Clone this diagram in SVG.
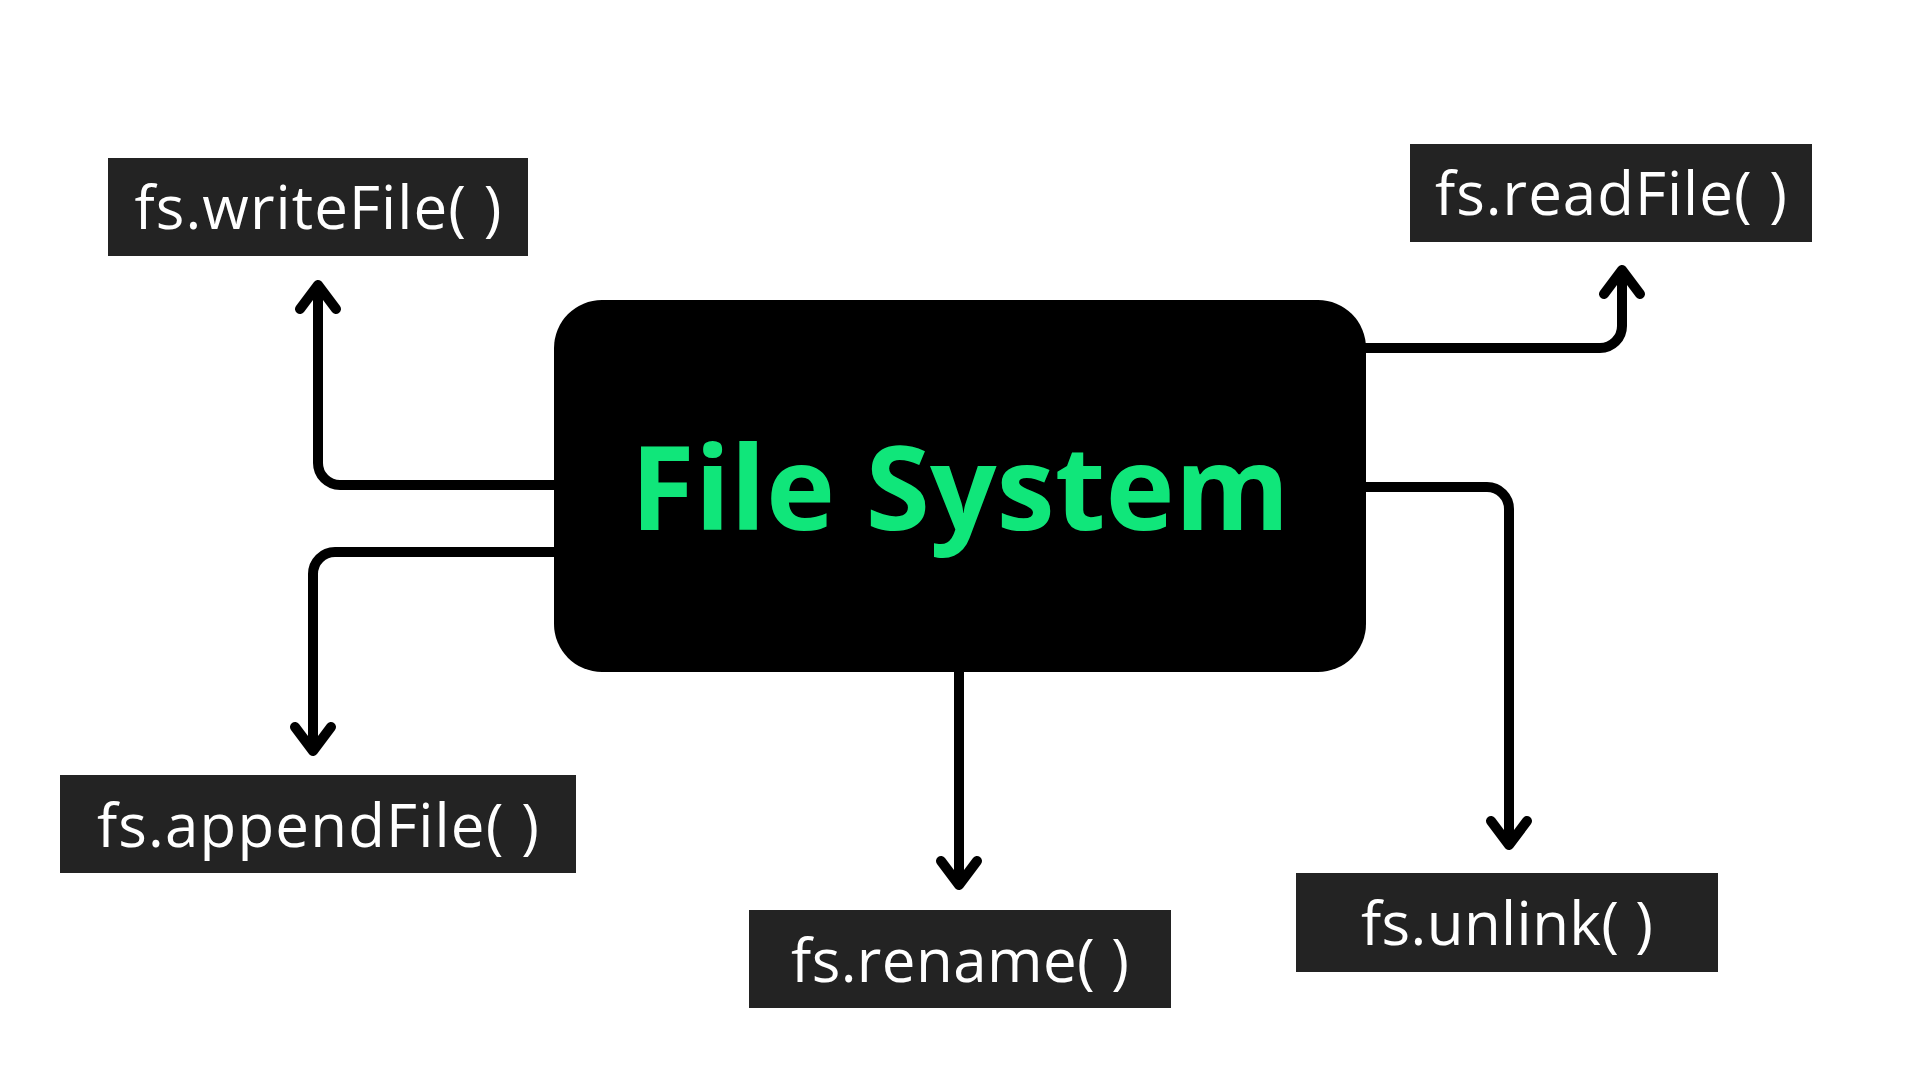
<svg xmlns="http://www.w3.org/2000/svg" width="1920" height="1080" viewBox="0 0 1920 1080">
  <style>
    .bg { fill: #ffffff; }
    .label-box { fill: #232323; }
    .label { fill: #ffffff; font-family: "Open Sans", "Noto Sans", "Liberation Sans", sans-serif; font-size: 60px; font-weight: 400; text-anchor: middle; }
    .core { fill: #000000; }
    .core-text { fill: #10E67A; font-family: "Open Sans", "Noto Sans", "Liberation Sans", sans-serif; font-size: 117px; font-weight: 700; text-anchor: middle; }
    .conn { fill: none; stroke: #000000; stroke-width: 10; stroke-linejoin: round; marker-end: url(#chev); }
  </style>
  <defs>
    <marker id="chev" markerUnits="userSpaceOnUse" markerWidth="60" markerHeight="60" viewBox="-30 -30 60 60" refX="0" refY="0" orient="auto">
      <path d="M -24 -18 L 0 0 L -24 18" fill="none" stroke="#000000" stroke-width="10" stroke-linecap="round" stroke-linejoin="round"/>
    </marker>
  </defs>
  <rect class="bg" x="0" y="0" width="1920" height="1080"/>

  <g id="connectors">
    <path class="conn" d="M 555 485 H 340 A 22 22 0 0 1 318 463 V 285"/>
    <path class="conn" d="M 555 552 H 335 A 22 22 0 0 0 313 574 V 751"/>
    <path class="conn" d="M 1365 348 H 1600 A 22 22 0 0 0 1622 326 V 270"/>
    <path class="conn" d="M 1365 487 H 1487 A 22 22 0 0 1 1509 509 V 845"/>
    <path class="conn" d="M 959 672 V 885"/>
  </g>

  <g id="file-system">
    <rect class="core" x="554" y="300" width="812" height="372" rx="48" ry="48"/>
    <text class="core-text" x="960" y="530">File System</text>
  </g>

  <g id="writeFile">
    <rect class="label-box" x="108" y="158" width="420" height="98"/>
    <text class="label" x="318" y="229" textLength="367" lengthAdjust="spacing">fs.writeFile( )</text>
  </g>

  <g id="readFile">
    <rect class="label-box" x="1410" y="144" width="402" height="98"/>
    <text class="label" x="1611" y="215" textLength="352" lengthAdjust="spacing">fs.readFile( )</text>
  </g>

  <g id="appendFile">
    <rect class="label-box" x="60" y="775" width="516" height="98"/>
    <text class="label" x="318" y="847" textLength="442" lengthAdjust="spacing">fs.appendFile( )</text>
  </g>

  <g id="rename">
    <rect class="label-box" x="749" y="910" width="422" height="98"/>
    <text class="label" x="960" y="982" textLength="338" lengthAdjust="spacing">fs.rename( )</text>
  </g>

  <g id="unlink">
    <rect class="label-box" x="1296" y="873" width="422" height="99"/>
    <text class="label" x="1507" y="945" textLength="292" lengthAdjust="spacing">fs.unlink( )</text>
  </g>
</svg>
